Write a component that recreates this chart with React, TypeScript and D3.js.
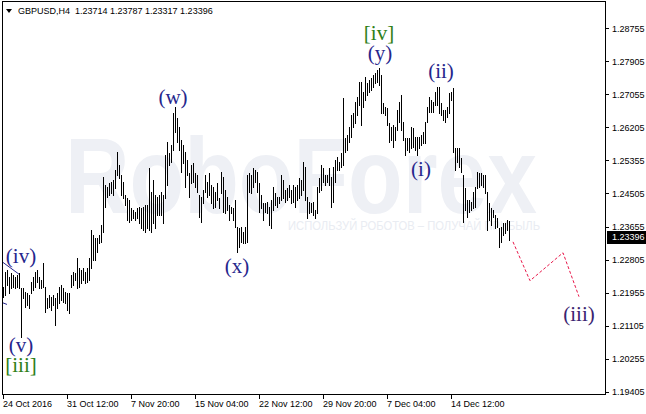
import React from 'react';
import * as d3 from 'd3';

const symbolText = 'GBPUSD,H4';
const lastOHLC = ['1.23714', '1.23787', '1.23317', '1.23396'];
const lastClose = 1.23396;

const highs = [
  1.2210, 1.2249, 1.2254, 1.2236, 1.2246, 1.2241, 1.2236, 1.2241, 1.2246, 1.2207,
  1.2207, 1.2197, 1.2194, 1.2189, 1.2223, 1.2236, 1.2249, 1.2254, 1.2236, 1.2228,
  1.2272, 1.2210, 1.2182, 1.2189, 1.2184, 1.2189, 1.2182, 1.2194, 1.2210, 1.2215,
  1.2207, 1.2197, 1.2194, 1.2194, 1.2241, 1.2249, 1.2246, 1.2285, 1.2259, 1.2254,
  1.2259, 1.2249, 1.2259, 1.2285, 1.2357, 1.2344, 1.2336, 1.2336, 1.2344, 1.2369,
  1.2493, 1.2472, 1.2467, 1.2478, 1.2480, 1.2485, 1.2511, 1.2557, 1.2524, 1.2498,
  1.2480, 1.2447, 1.2439, 1.2434, 1.2413, 1.2408, 1.2403, 1.2413, 1.2416, 1.2413,
  1.2416, 1.2421, 1.2421, 1.2516, 1.2454, 1.2485, 1.2447, 1.2441, 1.2447, 1.2454,
  1.2447, 1.2550, 1.2583, 1.2555, 1.2575, 1.2658, 1.2673, 1.2645, 1.2622, 1.2588,
  1.2575, 1.2557, 1.2537, 1.2503, 1.2524, 1.2529, 1.2503, 1.2498, 1.2447, 1.2441,
  1.2459, 1.2498, 1.2480, 1.2503, 1.2472, 1.2467, 1.2454, 1.2478, 1.2439, 1.2506,
  1.2493, 1.2459, 1.2441, 1.2421, 1.2416, 1.2413, 1.2434, 1.2364, 1.2362, 1.2364,
  1.2351, 1.2364, 1.2498, 1.2503, 1.2498, 1.2516, 1.2511, 1.2506, 1.2478, 1.2447,
  1.2426, 1.2426, 1.2429, 1.2416, 1.2434, 1.2467, 1.2452, 1.2441, 1.2441, 1.2498,
  1.2485, 1.2459, 1.2464, 1.2472, 1.2459, 1.2472, 1.2467, 1.2472, 1.2490, 1.2485,
  1.2532, 1.2519, 1.2441, 1.2429, 1.2426, 1.2429, 1.2408, 1.2467, 1.2490, 1.2524,
  1.2516, 1.2498, 1.2498, 1.2516, 1.2493, 1.2519, 1.2537, 1.2545, 1.2532, 1.2555,
  1.2696, 1.2593, 1.2601, 1.2622, 1.2653, 1.2658, 1.2686, 1.2699, 1.2737, 1.2737,
  1.2712, 1.2750, 1.2735, 1.2743, 1.2748, 1.2755, 1.2760, 1.2768, 1.2773, 1.2755,
  1.2684, 1.2673, 1.2671, 1.2632, 1.2622, 1.2627, 1.2622, 1.2665, 1.2686, 1.2704,
  1.2635, 1.2593, 1.2593, 1.2593, 1.2622, 1.2619, 1.2596, 1.2596, 1.2596, 1.2601,
  1.2609, 1.2635, 1.2673, 1.2699, 1.2691, 1.2686, 1.2712, 1.2725, 1.2725, 1.2684,
  1.2665, 1.2665, 1.2673, 1.2709, 1.2712, 1.2722, 1.2568, 1.2568, 1.2568, 1.2542,
  1.2498, 1.2465, 1.2434, 1.2434, 1.2429, 1.2454, 1.2467, 1.2506, 1.2503, 1.2503,
  1.2498, 1.2498, 1.2454, 1.2426, 1.2413, 1.2408, 1.2395, 1.2387, 1.2362, 1.2364,
  1.2375, 1.2375, 1.2382, 1.23787,
];

const lows = [
  1.2184, 1.2189, 1.2215, 1.2194, 1.2207, 1.2210, 1.2207, 1.2210, 1.2207, 1.2081,
  1.2182, 1.2158, 1.2164, 1.2156, 1.2194, 1.2202, 1.2210, 1.2223, 1.2207, 1.2207,
  1.2210, 1.2146, 1.2156, 1.2158, 1.2151, 1.2164, 1.2112, 1.2156, 1.2169, 1.2176,
  1.2171, 1.2169, 1.2151, 1.2143, 1.2210, 1.2215, 1.2228, 1.2207, 1.2210, 1.2220,
  1.2228, 1.2220, 1.2223, 1.2228, 1.2259, 1.2279, 1.2279, 1.2300, 1.2323, 1.2326,
  1.2351, 1.2416, 1.2441, 1.2447, 1.2452, 1.2447, 1.2464, 1.2498, 1.2490, 1.2447,
  1.2439, 1.2421, 1.2382, 1.2377, 1.2382, 1.2387, 1.2382, 1.2387, 1.2375, 1.2362,
  1.2357, 1.2351, 1.2362, 1.2357, 1.2351, 1.2375, 1.2362, 1.2395, 1.2395, 1.2395,
  1.2375, 1.2439, 1.2472, 1.2524, 1.2532, 1.2562, 1.2609, 1.2583, 1.2562, 1.2506,
  1.2529, 1.2467, 1.2498, 1.2441, 1.2478, 1.2480, 1.2467, 1.2454, 1.2390, 1.2377,
  1.2426, 1.2454, 1.2441, 1.2447, 1.2426, 1.2413, 1.2416, 1.2434, 1.2413, 1.2452,
  1.2403, 1.2400, 1.2408, 1.2382, 1.2400, 1.2382, 1.2364, 1.2300, 1.2313, 1.2326,
  1.2323, 1.2323, 1.2326, 1.2454, 1.2452, 1.2467, 1.2480, 1.2454, 1.2403, 1.2413,
  1.2382, 1.2403, 1.2400, 1.2369, 1.2362, 1.2408, 1.2421, 1.2416, 1.2426, 1.2434,
  1.2439, 1.2429, 1.2434, 1.2441, 1.2426, 1.2429, 1.2416, 1.2434, 1.2439, 1.2447,
  1.2459, 1.2434, 1.2387, 1.2400, 1.2403, 1.2395, 1.2387, 1.2400, 1.2454, 1.2459,
  1.2480, 1.2472, 1.2480, 1.2472, 1.2416, 1.2429, 1.2480, 1.2511, 1.2511, 1.2519,
  1.2524, 1.2557, 1.2562, 1.2583, 1.2596, 1.2622, 1.2632, 1.2653, 1.2678, 1.2627,
  1.2673, 1.2691, 1.2704, 1.2712, 1.2717, 1.2725, 1.2735, 1.2737, 1.2730, 1.2658,
  1.2658, 1.2653, 1.2627, 1.2583, 1.2588, 1.2570, 1.2588, 1.2614, 1.2635, 1.2614,
  1.2588, 1.2550, 1.2562, 1.2557, 1.2568, 1.2570, 1.2562, 1.2550, 1.2568, 1.2575,
  1.2580, 1.2580, 1.2635, 1.2660, 1.2660, 1.2660, 1.2678, 1.2678, 1.2658, 1.2653,
  1.2640, 1.2635, 1.2648, 1.2658, 1.2691, 1.2557, 1.2511, 1.2532, 1.2519, 1.2506,
  1.2377, 1.2408, 1.2390, 1.2403, 1.2408, 1.2413, 1.2416, 1.2464, 1.2467, 1.2472,
  1.2467, 1.2452, 1.2357, 1.2382, 1.2369, 1.2390, 1.2362, 1.2364, 1.2313, 1.2326,
  1.2344, 1.2349, 1.2357, 1.23317,
];

const yTickValues = [1.28755, 1.27905, 1.27055, 1.26205, 1.25355, 1.24505, 1.23655, 1.22805, 1.21955, 1.21105, 1.20255, 1.19405];
const xTickBars = [0, 32, 64, 96, 128, 160, 192, 224];
const xTickLabels = ['24 Oct 2016', '31 Oct 12:00', '7 Nov 20:00', '15 Nov 04:00', '22 Nov 12:00', '29 Nov 20:00', '7 Dec 04:00', '14 Dec 12:00'];

const waveTexts = ['(iv)', '(v)', '[iii]', '(w)', '(x)', '[iv]', '(y)', '(i)', '(ii)', '(iii)'];
const waveBars = [9, 9, 9, 85, 117, 188, 188.5, 209, 219, 288];
const wavePrices = [1.2272, 1.2043, 1.1991, 1.2681, 1.2246, 1.2845, 1.2794, 1.2496, 1.2748, 1.2123];
const waveKinds = ['minor', 'minor', 'major', 'minor', 'minor', 'major', 'minor', 'minor', 'minor', 'target'];

const forecastBars = [255, 263.5, 280, 288];
const forecastPrices = [1.2326, 1.2226, 1.2298, 1.2185];

const waveLineA = { bars: [-0.5, 8.5], prices: [1.2275, 1.2241] };
const waveLineB = { bars: [-0.5, 2], prices: [1.2170, 1.2165] };

export default function App() {
  const W = 646;
  const H = 414;
  const left = 2, right = 605, top = 2, bottom = 394;

  const x = d3.scaleLinear().domain([0, 301]).range([3, 605]);
  const y = d3.scaleLinear().domain([1.19405, 1.28755]).range([391.7, 28.3]);

  const navy = '#26268c';
  const green = '#2f7f18';
  const fmt = d3.format('.5f');

  const line = d3.line<[number, number]>().x(d => x(d[0])).y(d => y(d[1]));
  const forecast = line(forecastBars.map((b, i) => [b, forecastPrices[i]] as [number, number]));
  const wlA = line(waveLineA.bars.map((b, i) => [b, waveLineA.prices[i]] as [number, number]));
  const wlB = line(waveLineB.bars.map((b, i) => [b, waveLineB.prices[i]] as [number, number]));

  const axisFont = '"Liberation Sans", Arial, sans-serif';

  return (
    <svg width={W} height={H} style={{ position: 'absolute', left: 0, top: 0, display: 'block', background: '#fff' }}>
      <rect x={0} y={0} width={W} height={H} fill="#fff" />
      <defs>
        <clipPath id="plot">
          <rect x={left + 0.5} y={top + 0.5} width={right - left - 0.5} height={bottom - top - 0.5} />
        </clipPath>
      </defs>

      {/* watermark */}
      <g>
        <text x={65} y={213} fontFamily={axisFont} fontWeight="bold" fontSize={108} fill="#eef0f5"
          textLength={472} lengthAdjust="spacingAndGlyphs">RoboForex</text>
        <text x={288} y={230} fontFamily={axisFont} fontSize={13} fill="#e9ecf2"
          textLength={252} lengthAdjust="spacingAndGlyphs">ИСПОЛЬЗУЙ РОБОТОВ – ПОЛУЧАЙ ПРИБЫЛЬ</text>
      </g>

      <g clipPath="url(#plot)">
        {/* wave lines */}
        <path d={wlA || ''} stroke={navy} strokeWidth={1} fill="none" />
        <path d={wlB || ''} stroke={navy} strokeWidth={1} fill="none" />
        {/* bars */}
        <g shapeRendering="crispEdges">
          {highs.map((h, i) => {
            const y1 = Math.round(y(h));
            const y2 = Math.round(y(lows[i]));
            return <rect key={i} x={Math.round(x(i))} y={y1} width={1} height={Math.max(1, y2 - y1 + 1)} fill="#000" />;
          })}
        </g>
        {/* forecast */}
        <path d={forecast || ''} stroke="#e8184a" strokeWidth={1} strokeDasharray="3 2" fill="none" />
      </g>

      {/* wave labels */}
      {waveTexts.map((t, i) => (
        <text key={t + i} x={x(waveBars[i])} y={y(wavePrices[i])} textAnchor="middle"
          fontFamily='"Liberation Serif", "Times New Roman", serif' fontSize={21}
          fill={waveKinds[i] === 'major' ? green : waveKinds[i] === 'target' ? '#3a2470' : navy}>{t}</text>
      ))}

      {/* frame */}
      <rect x={left + 0.5} y={top - 0.5} width={right - left} height={bottom - top + 1} fill="none" stroke="#000" strokeWidth={1} shapeRendering="crispEdges" />

      {/* y axis */}
      <g fontFamily={axisFont} fontSize={9} fill="#000">
        {yTickValues.map(v => (
          <g key={v}>
            <line x1={right} x2={right + 4} y1={Math.round(y(v)) + 0.5} y2={Math.round(y(v)) + 0.5} stroke="#000" shapeRendering="crispEdges" />
            <text x={612} y={y(v) + 3.3}>{fmt(v)}</text>
          </g>
        ))}
        <rect x={607} y={Math.round(y(lastClose)) - 6} width={39} height={13} fill="#000" />
        <text x={612} y={y(lastClose) + 3.3} fill="#fff">{fmt(lastClose)}</text>
      </g>

      {/* x axis */}
      <g fontFamily={axisFont} fontSize={9} fill="#000">
        {xTickBars.map((b, i) => (
          <g key={b}>
            <line x1={Math.round(x(b)) + 0.5} x2={Math.round(x(b)) + 0.5} y1={bottom} y2={bottom + 5} stroke="#000" shapeRendering="crispEdges" />
            <text x={Math.round(x(b))} y={407}>{xTickLabels[i]}</text>
          </g>
        ))}
      </g>

      {/* header */}
      <path d="M6,9 L12,9 L9,13 Z" fill="#000" />
      <text x={18} y={14} fontFamily={axisFont} fontSize={9} fill="#000" style={{ whiteSpace: 'pre' }}>
        {symbolText + '  ' + lastOHLC.join(' ')}
      </text>
    </svg>
  );
}
